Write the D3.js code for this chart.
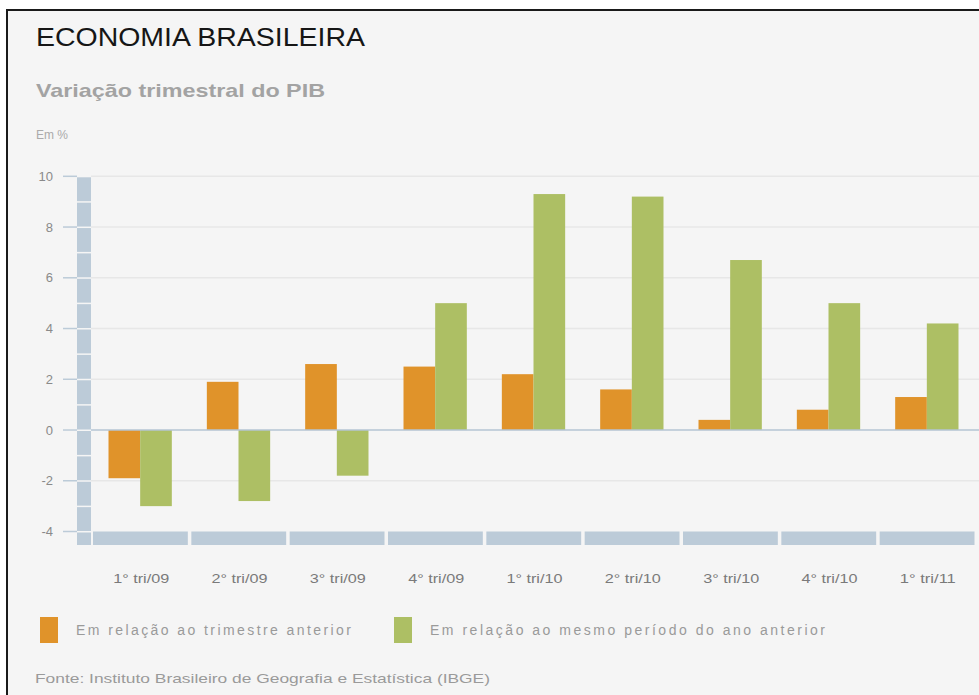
<!DOCTYPE html>
<html>
<head>
<meta charset="utf-8">
<script src="https://cdn.jsdelivr.net/npm/d3@7"></script>
<style>
  body { margin: 0; background: #fff; }
  svg { display: block; }
</style>
</head>
<body>
<div id="chart"></div>
<script>
// data
var quarters = ["1° tri/09", "2° tri/09", "3° tri/09", "4° tri/09", "1° tri/10",
                "2° tri/10", "3° tri/10", "4° tri/10", "1° tri/11"];
var vsPrevQuarter = [-1.9, 1.9, 2.6, 2.5, 2.2, 1.6, 0.4, 0.8, 1.3];
var vsPrevYear = [-3.0, -2.8, -1.8, 5.0, 9.3, 9.2, 6.7, 5.0, 4.2];
var yTicks = [-4, -2, 0, 2, 4, 6, 8, 10];
var seriesNames = ["Em relação ao trimestre anterior", "Em relação ao mesmo período do ano anterior"];
var seriesColors = ["#e0932a", "#adbf64"];

var W = 979, H = 695;
var axisColor = "#bccbd8";

var svg = d3.select("#chart")
  .append("svg")
    .attr("width", W)
    .attr("height", H);

// panel + frame
svg.append("rect")
  .attr("x", 7).attr("y", 10)
  .attr("width", W - 7).attr("height", H - 10)
  .attr("fill", "#f5f5f5");
svg.append("line")
  .attr("x1", 7).attr("x2", W).attr("y1", 10).attr("y2", 10)
  .attr("stroke", "#1a1a1a").attr("stroke-width", 2);
svg.append("line")
  .attr("x1", 7).attr("x2", 7).attr("y1", 9).attr("y2", H)
  .attr("stroke", "#1a1a1a").attr("stroke-width", 2);

// titles
svg.append("text")
  .attr("x", 36).attr("y", 46)
  .attr("textLength", 329).attr("lengthAdjust", "spacingAndGlyphs")
  .style("font-family", "Liberation Sans, Arial, sans-serif")
  .style("font-size", "25px")
  .style("fill", "#161616")
  .text("ECONOMIA BRASILEIRA");

svg.append("text")
  .attr("x", 36).attr("y", 97)
  .attr("textLength", 289).attr("lengthAdjust", "spacingAndGlyphs")
  .style("font-family", "Liberation Sans, Arial, sans-serif")
  .style("font-size", "19px")
  .style("font-weight", "bold")
  .style("fill", "#a3a3a3")
  .text("Variação trimestral do PIB");

svg.append("text")
  .attr("x", 36).attr("y", 139)
  .style("font-family", "Liberation Sans, Arial, sans-serif")
  .style("font-size", "12px")
  .style("fill", "#aaaaaa")
  .text("Em %");

// scales
var x0 = d3.scaleBand()
  .domain(quarters)
  .range([91, 976]);

var x1 = d3.scaleBand()
  .domain([0, 1])
  .range([0, x0.bandwidth()])
  .paddingOuter(0.553);

var y = d3.scaleLinear()
  .domain([-4, 10])
  .range([531.5, 176.3]);

// gridlines
svg.append("g")
  .selectAll("line")
  .data(yTicks.filter(function(d) { return d != 0 && d != -4; }))
  .enter()
  .append("line")
    .attr("x1", 91).attr("x2", W)
    .attr("y1", function(d) { return y(d); })
    .attr("y2", function(d) { return y(d); })
    .attr("stroke", "#e7e7e7")
    .attr("stroke-width", 1.5);

// y axis bar, segmented at each unit
var units = d3.range(-4, 10);
svg.append("g")
  .selectAll("rect")
  .data(units)
  .enter()
  .append("rect")
    .attr("x", 77)
    .attr("width", 14)
    .attr("y", function(d) { return y(d + 1) + 1; })
    .attr("height", function(d) { return y(d) - y(d + 1) - 1.5; })
    .attr("fill", axisColor);
svg.append("rect")
  .attr("x", 77).attr("width", 14)
  .attr("y", y(-4) + 1).attr("height", 545 - y(-4) - 1)
  .attr("fill", axisColor);

// bottom bar, one segment per category
svg.append("g")
  .selectAll("rect")
  .data(quarters)
  .enter()
  .append("rect")
    .attr("x", function(d) { return x0(d) + 2; })
    .attr("width", x0.bandwidth() - 3.5)
    .attr("y", y(-4))
    .attr("height", 545 - y(-4))
    .attr("fill", axisColor);

// y ticks + labels
var yAxis = svg.append("g");
yAxis.selectAll("line")
  .data(yTicks)
  .enter()
  .append("line")
    .attr("x1", 63).attr("x2", 77)
    .attr("y1", function(d) { return y(d); })
    .attr("y2", function(d) { return y(d); })
    .attr("stroke", axisColor)
    .attr("stroke-width", 1.5);
yAxis.selectAll("text")
  .data(yTicks)
  .enter()
  .append("text")
    .attr("x", 53)
    .attr("y", function(d) { return y(d); })
    .attr("dy", "0.36em")
    .attr("text-anchor", "end")
    .style("font-family", "Liberation Sans, Arial, sans-serif")
    .style("font-size", "13px")
    .style("fill", "#8a8a8a")
    .text(function(d) { return d; });

// bars
var rows = quarters.map(function(q, i) {
  return {q: q, vals: [vsPrevQuarter[i], vsPrevYear[i]]};
});

var groups = svg.append("g")
  .selectAll("g")
  .data(rows)
  .enter()
  .append("g")
    .attr("transform", function(d) { return "translate(" + x0(d.q) + ",0)"; });

groups.selectAll("rect")
  .data(function(d) { return d.vals.map(function(v, k) { return {k: k, v: v}; }); })
  .enter()
  .append("rect")
    .attr("x", function(d) { return x1(d.k); })
    .attr("width", x1.bandwidth())
    .attr("y", function(d) { return y(Math.max(0, d.v)); })
    .attr("height", function(d) { return Math.abs(y(d.v) - y(0)); })
    .attr("fill", function(d) { return seriesColors[d.k]; });

// zero line
svg.append("line")
  .attr("x1", 91).attr("x2", W)
  .attr("y1", y(0)).attr("y2", y(0))
  .attr("stroke", "#b4c4d3")
  .attr("stroke-width", 1.5);

// x labels
svg.append("g")
  .selectAll("text")
  .data(quarters)
  .enter()
  .append("text")
    .attr("x", function(d) { return x0(d) + x0.bandwidth() / 2 + 1; })
    .attr("y", 583)
    .attr("text-anchor", "middle")
    .attr("textLength", 56).attr("lengthAdjust", "spacingAndGlyphs")
    .style("font-family", "Liberation Sans, Arial, sans-serif")
    .style("font-size", "13px")
    .style("fill", "#7a7a7a")
    .text(function(d) { return d; });

// legend
var legendX = [40, 394];
var legendW = [275, 395];
var legend = svg.append("g")
  .selectAll("g")
  .data(seriesNames)
  .enter()
  .append("g")
    .attr("transform", function(d, i) { return "translate(" + legendX[i] + ",617)"; });
legend.append("rect")
  .attr("width", 18).attr("height", 26)
  .attr("fill", function(d, i) { return seriesColors[i]; });
legend.append("text")
  .attr("x", 36).attr("y", 18)
  .attr("textLength", function(d, i) { return legendW[i]; })
  .attr("lengthAdjust", "spacing")
  .style("font-family", "Liberation Sans, Arial, sans-serif")
  .style("font-size", "14px")
  .style("fill", "#9a9a9a")
  .text(function(d) { return d; });

// source
svg.append("text")
  .attr("x", 35).attr("y", 683)
  .attr("textLength", 455).attr("lengthAdjust", "spacingAndGlyphs")
  .style("font-family", "Liberation Sans, Arial, sans-serif")
  .style("font-size", "13.5px")
  .style("fill", "#9a9a9a")
  .text("Fonte: Instituto Brasileiro de Geografia e Estatística (IBGE)");
</script>
</body>
</html>
